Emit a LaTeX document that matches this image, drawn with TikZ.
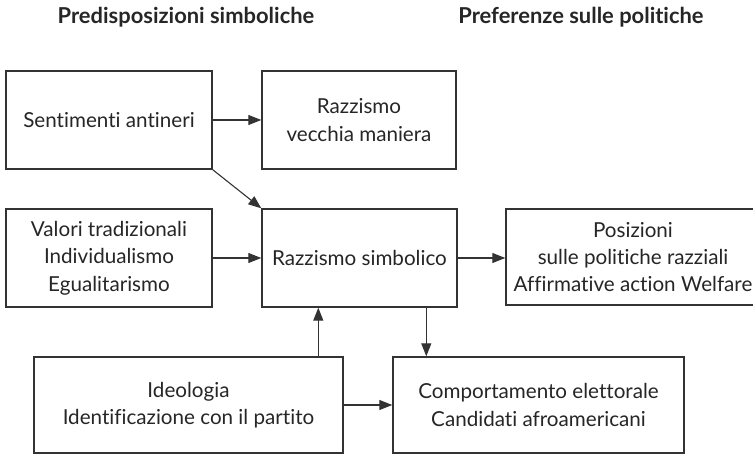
\documentclass[tikz,border=0pt]{standalone}
\usepackage{fontspec}
\setmainfont{Lato}[Ligatures=NoCommon]
\usetikzlibrary{arrows.meta}
\definecolor{boxgray}{HTML}{333333}
\definecolor{txtgray}{HTML}{262626}
\tikzset{
  box/.style={draw=boxgray, line width=1.4bp, text=txtgray, align=center,
    inner sep=0pt, font=\fontsize{20.7}{27.5}\selectfont},
  arr/.style={draw=boxgray, line width=1.1bp, -{Triangle[length=13bp,width=10bp]}},
  ttl/.style={text=txtgray, font=\fontsize{22}{26}\selectfont\bfseries}
}
\begin{document}
\begin{tikzpicture}[x=1bp,y=-1bp]
\fill[white] (0,0) rectangle (753,455);
\useasboundingbox (0,0) rectangle (753,455);
\node[ttl] (t1) at (186,17) {Predisposizioni simboliche};
\node[ttl] (t2) at (581,17) {Preferenze sulle politiche};
\node[box, minimum width=206bp, minimum height=98bp] (A) at (109,120) {Sentimenti antineri};
\node[box, minimum width=194bp, minimum height=98bp] (B) at (359,120) {Razzismo\\vecchia maniera};
\node[box, minimum width=206bp, minimum height=98bp] (C) at (109,258) {Valori tradizionali\\Individualismo\\Egualitarismo};
\node[box, minimum width=195bp, minimum height=98bp] (D) at (359.5,258) {Razzismo simbolico};
\node[box, minimum width=254bp, minimum height=96bp] (E) at (633,257) {Posizioni\\sulle politiche razziali\\Affirmative action Welfare};
\node[box, minimum width=309bp, minimum height=96bp] (F) at (188.5,405) {Ideologia\\Identificazione con il partito};
\node[box, minimum width=291bp, minimum height=96bp] (G) at (538.5,405) {Comportamento elettorale\\Candidati afroamericani};
\draw[arr] (A.east) -- (B.west);
\draw[arr] (A.south east) -- (D.north west);
\draw[arr] (C.east) -- (D.west);
\draw[arr] (D.east) -- (D.east -| E.west);
\draw[arr] ([xshift=57bp]D.south west |- F.north) -- ([xshift=57bp]D.south west);
\draw[arr] ([xshift=34bp]G.north west |- D.south) -- ([xshift=34bp]G.north west);
\draw[arr] (F.east) -- (G.west);
\end{tikzpicture}
\end{document}
